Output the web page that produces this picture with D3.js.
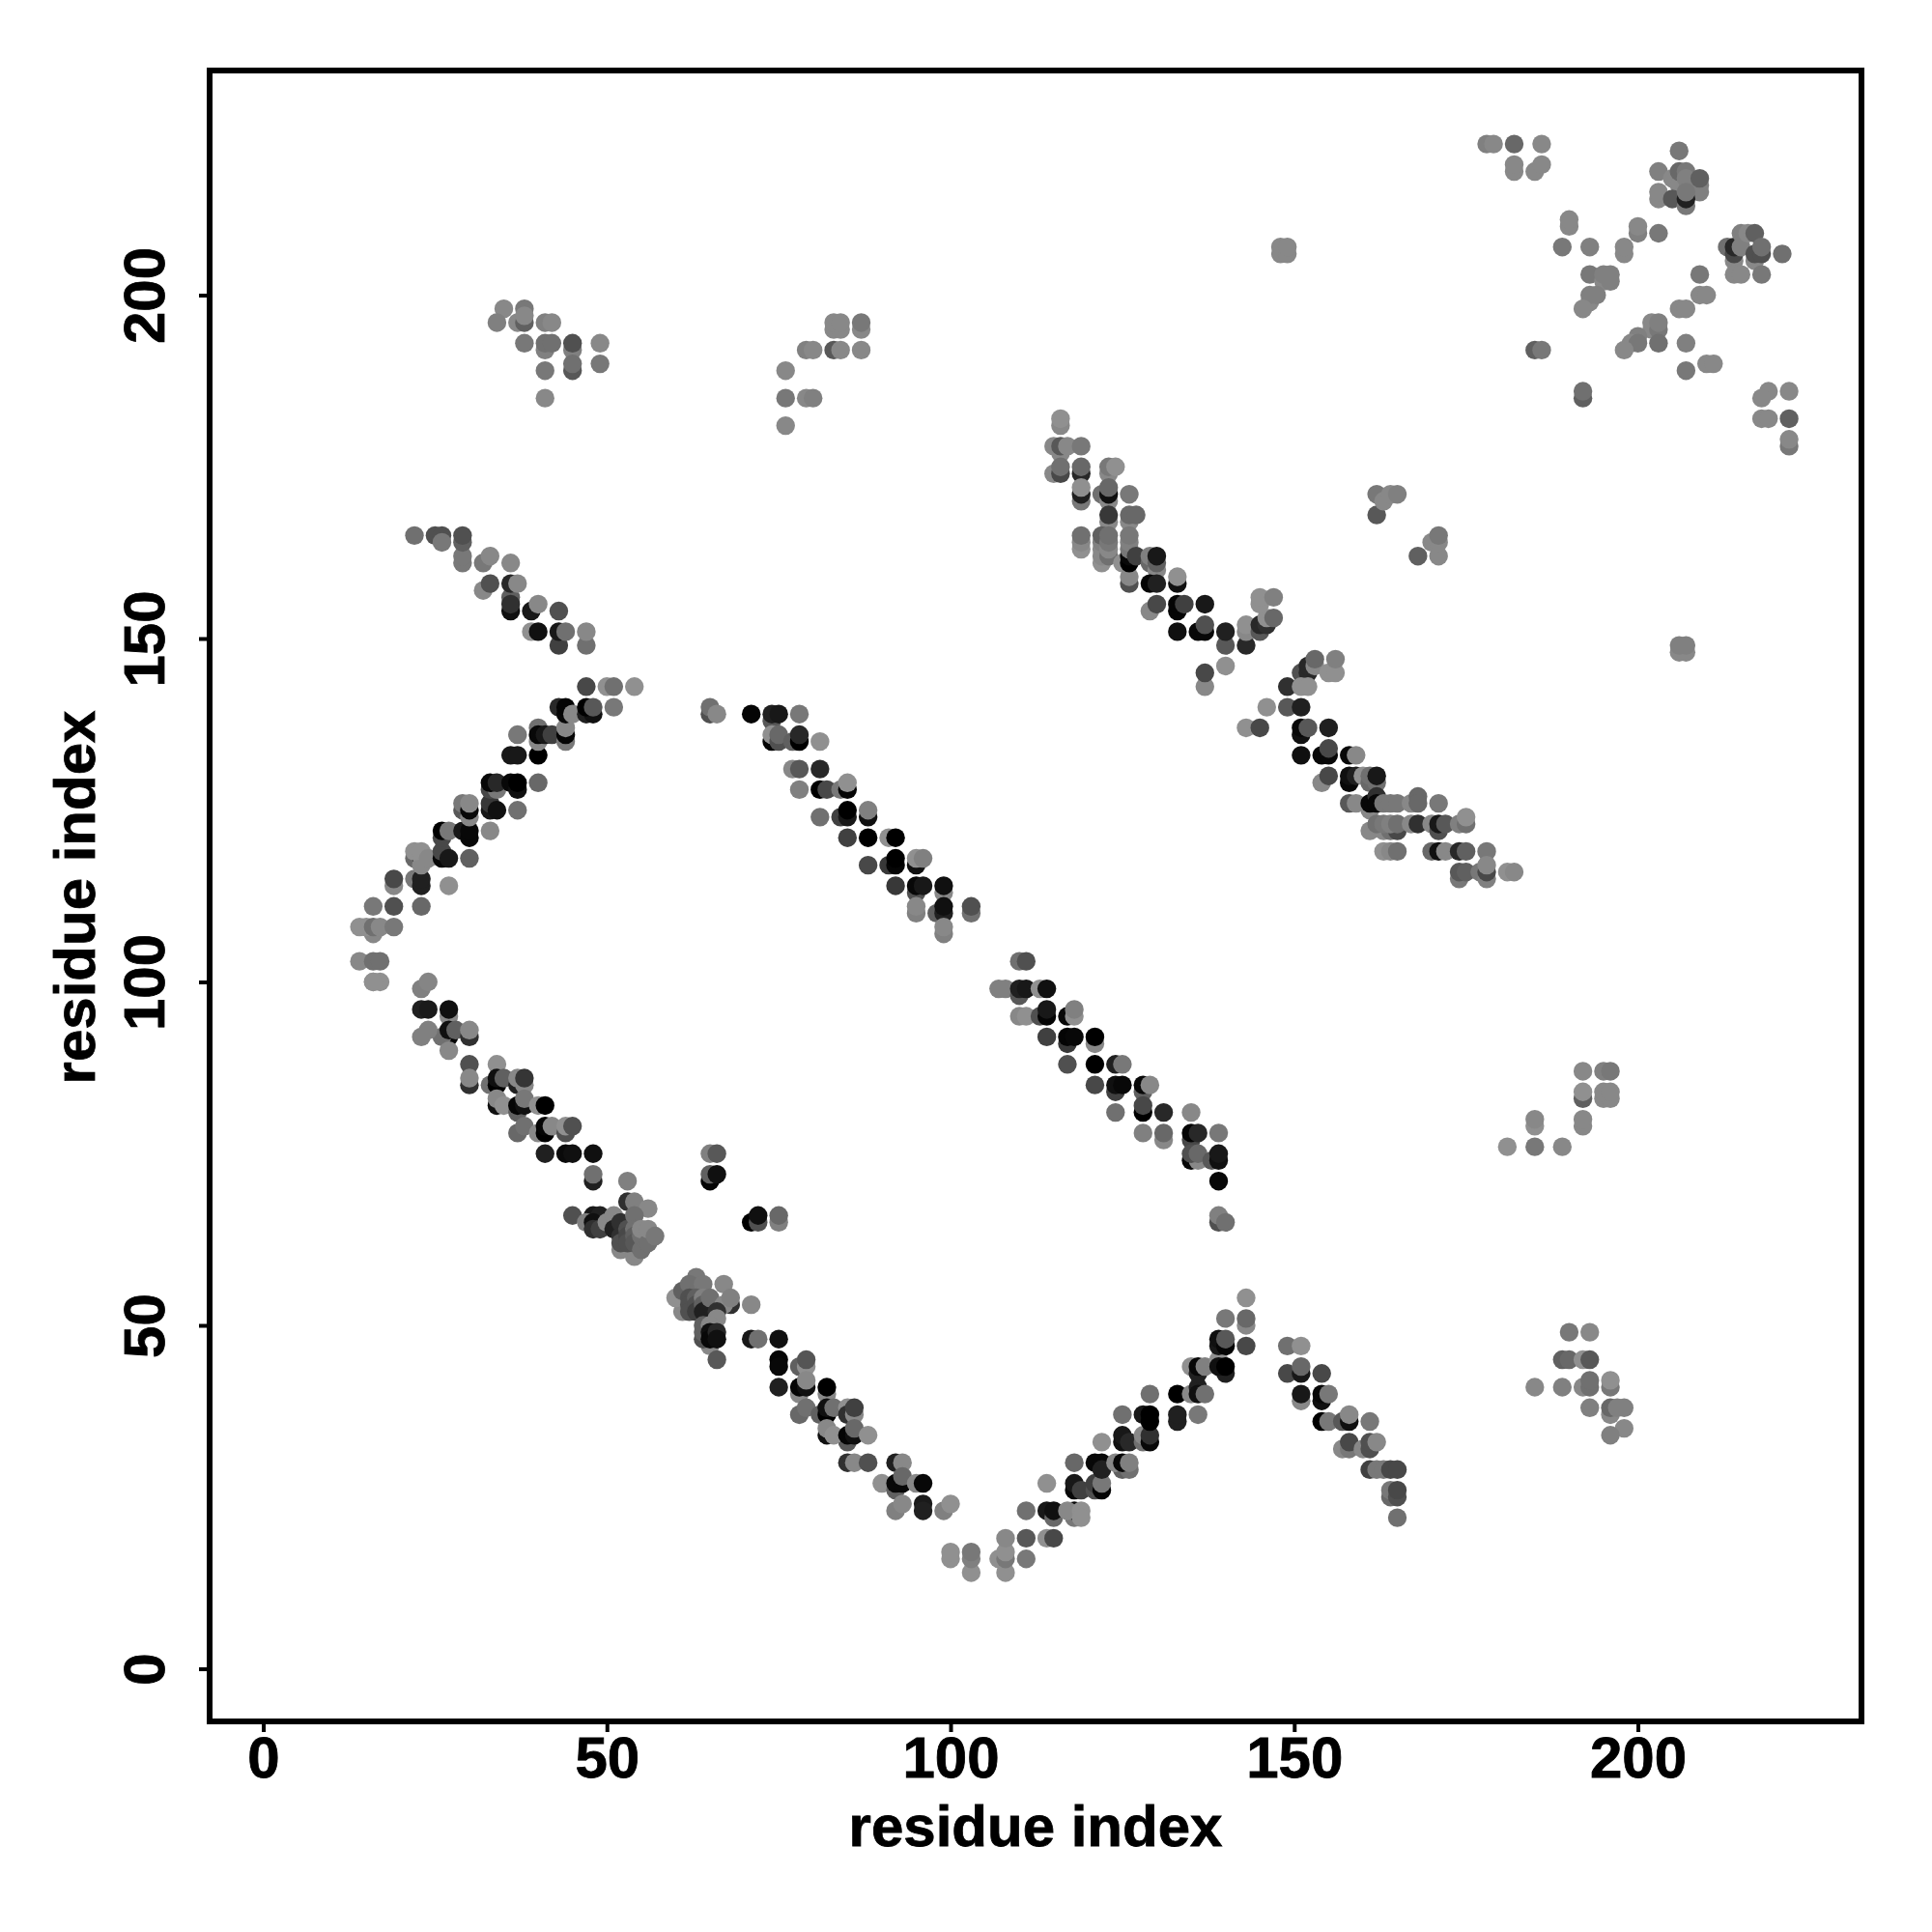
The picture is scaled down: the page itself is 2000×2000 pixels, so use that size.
<!DOCTYPE html>
<html><head><meta charset="utf-8">
<script src="https://cdn.jsdelivr.net/npm/d3@7/dist/d3.min.js"></script>
<style>html,body{margin:0;background:#fff}svg{display:block}</style></head>
<body><div id="chart"></div>
<script>
const xTicks=[0,50,100,150,200];
const yTicks=[0,50,100,150,200];
const axisTitle="residue index";
// [residue i, residue j, grey level]
const lowerBand=[[16,100,0x90],[17,100,0x90],[23,99,0x80],[24,100,0x85],[27,95,0x88],[23,96,0x20],[24,96,0x1a],[27,96,0x10],[27,92,0x05],[26,92,0x70],[23,92,0x80],[24,93,0x80],[27,93,0x10],[28,93,0x60],[30,92,0x30],[30,93,0x88],[27,90,0x88],[30,88,0x50],[30,85,0x30],[30,86,0x88],[33,85,0x70],[34,88,0x90],[34,85,0x00],[34,86,0x10],[35,86,0x60],[37,85,0x20],[38,85,0x88],[37,86,0x88],[38,86,0x35],[34,82,0x10],[34,83,0x88],[35,82,0x90],[37,81,0x60],[37,82,0x05],[38,82,0x10],[38,83,0x78],[40,82,0x90],[41,82,0x00],[37,78,0x68],[38,79,0x70],[40,78,0x88],[41,78,0x00],[41,79,0x05],[42,79,0x88],[44,78,0x50],[44,79,0x90],[45,79,0x50],[41,75,0x20],[44,75,0x0a],[45,75,0x10],[48,75,0x10],[48,71,0x20],[48,72,0x70],[53,71,0x80]];
const firstCluster=[[53,68,0x30],[54,68,0x80],[56,67,0x88],[45,66,0x50],[48,66,0x18],[49,66,0x20],[47,65,0x80],[48,65,0x10],[48,64,0x30],[49,64,0x40],[52,61,0x88],[54,60,0x88],[54,61,0x88],[50,65,0x88],[51,66,0x88],[51,64,0x20],[52,65,0x30],[52,63,0x30],[52,62,0x50],[53,64,0x50],[53,63,0x48],[53,62,0x50],[54,66,0x70],[54,64,0x70],[54,63,0x60],[54,62,0x58],[55,61,0x70],[55,63,0x70],[55,64,0x88],[56,62,0x70],[56,64,0x88],[57,63,0x78]];
const shortContacts=[[65,75,0x80],[66,75,0x58],[65,71,0x05],[65,72,0x60],[66,72,0x10],[71,65,0x00],[72,65,0x50],[72,66,0x10],[75,65,0x80],[75,66,0x68]];
const secondCluster=[[61,52,0x88],[60,54,0x90],[63,57,0x78],[67,56,0x88],[61,55,0x60],[62,56,0x70],[64,56,0x78],[62,54,0x50],[62,53,0x50],[62,52,0x50],[63,54,0x60],[63,53,0x50],[63,52,0x40],[64,54,0x80],[64,53,0x60],[64,52,0x20],[65,53,0x20],[65,54,0x70],[68,53,0x30],[67,53,0x88],[68,54,0x80],[71,53,0x88],[66,52,0x30],[66,51,0x88],[65,47,0x88],[64,48,0x50],[64,49,0x60],[64,50,0x60],[65,50,0x88],[65,49,0x10],[65,48,0x08],[66,49,0x28],[66,48,0x10],[66,45,0x58]];
const lowerFall=[[71,48,0x18],[72,48,0x70],[75,48,0x10],[75,45,0x05],[75,44,0x08],[75,41,0x20],[78,44,0x60],[79,44,0x90],[79,45,0x55],[78,40,0x88],[78,41,0x05],[79,41,0x10],[79,42,0x88],[82,40,0x88],[82,41,0x00],[78,37,0x68],[79,38,0x70],[81,37,0x60],[82,37,0x00],[82,38,0x10],[83,38,0x70],[85,38,0x90],[85,37,0x30],[86,37,0x88],[86,38,0x40],[85,33,0x58],[82,34,0x10],[82,35,0x88],[83,34,0x90],[85,34,0x05],[86,34,0x10],[86,35,0x68],[88,34,0x90],[85,30,0x30],[86,30,0x88],[88,30,0x50],[92,30,0x20],[93,30,0x88],[90,27,0x90],[92,26,0x60],[92,27,0x08],[93,27,0x08],[93,28,0x68],[95,27,0x88],[96,27,0x08],[92,23,0x80],[93,24,0x88],[96,24,0x1a],[96,23,0x20],[99,23,0x80],[100,24,0x90]];
const valley=[[100,16,0x90],[100,17,0x90],[103,14,0x90],[103,16,0x80],[103,17,0x78],[107,16,0x90],[108,14,0x90],[108,16,0x78],[108,17,0x90],[108,19,0x88],[111,16,0x78],[111,19,0x58],[114,19,0x90],[115,19,0x48]];
const lowerRise=[[111,23,0x70],[114,23,0x18],[115,22,0x68],[115,23,0x10],[114,27,0x90],[118,22,0x78],[118,23,0x08],[117,23,0x88],[119,23,0x90],[119,22,0x90],[118,30,0x68],[118,26,0x08],[118,27,0x18],[119,26,0x40],[121,26,0x50],[121,27,0x40],[122,26,0x05],[122,27,0x78],[121,30,0x08],[122,30,0x08],[122,29,0x20],[125,29,0x60],[126,29,0x70],[124,30,0x88],[125,30,0x08],[126,30,0x80],[122,33,0x90],[125,33,0x10],[125,34,0x18],[126,33,0x28],[125,37,0x70],[128,33,0x70],[128,34,0x88],[129,33,0x08],[129,34,0x30],[128,37,0x18],[129,36,0x00],[129,37,0x00],[129,40,0x70],[133,36,0x20],[133,37,0x20],[133,40,0x00],[135,40,0x88],[136,41,0x20],[136,40,0x10],[137,40,0x70],[136,37,0x78],[135,44,0x90],[136,43,0x20],[136,44,0x08],[137,44,0x80],[139,45,0x90],[140,43,0x20],[139,44,0x10],[140,44,0x00],[139,47,0x18],[139,48,0x10],[140,47,0x05],[140,48,0x58],[140,51,0x78],[143,54,0x90],[143,50,0x88],[143,51,0x68],[143,47,0x48]];
const lowerRight=[[149,47,0x70],[151,47,0x90],[149,43,0x48],[151,43,0x18],[151,44,0x68],[154,43,0x48],[151,39,0x88],[151,40,0x18],[154,39,0x10],[154,40,0x08],[155,40,0x78],[154,36,0x00],[155,36,0x78],[157,36,0x58],[158,36,0x10],[158,37,0x88],[161,36,0x78],[157,32,0x88],[158,32,0x78],[158,33,0x48],[160,32,0x88],[161,32,0x50],[161,33,0x50],[162,33,0x88],[161,29,0x40],[162,29,0x78],[163,29,0x78],[164,29,0x48],[165,29,0x48],[164,25,0x68],[164,26,0x78],[165,25,0x50],[165,26,0x48],[165,22,0x70]];
const farLower=[[192,87,0x88],[195,87,0x80],[196,87,0x78],[192,83,0x60],[192,84,0x90],[195,83,0x88],[196,83,0x88],[195,84,0x88],[196,84,0x88],[192,79,0x88],[192,80,0x88],[185,79,0x90],[185,80,0x88],[181,76,0x90],[185,76,0x78],[189,76,0x88],[190,49,0x78],[193,49,0x88],[189,45,0x60],[190,45,0x68],[192,45,0x90],[193,45,0x58],[185,41,0x88],[189,41,0x80],[192,41,0x88],[193,41,0x70],[193,42,0x70],[196,41,0x78],[196,42,0x90],[193,38,0x80],[196,37,0x88],[196,38,0x68],[197,38,0x80],[198,38,0x80],[198,35,0x88],[196,34,0x80]];
const midFall=[[110,103,0x70],[111,103,0x50],[107,99,0x80],[108,99,0x80],[110,98,0x58],[110,99,0x20],[111,99,0x18],[113,99,0x90],[114,99,0x10],[110,95,0x88],[111,95,0x90],[113,95,0x50],[114,95,0x05],[114,96,0x18],[117,95,0x08],[118,95,0x90],[118,96,0x80],[114,92,0x40],[117,91,0x38],[117,92,0x05],[118,92,0x08],[121,91,0x88],[121,92,0x00],[117,88,0x50],[121,88,0x00],[124,88,0x20],[125,88,0x78],[121,85,0x48],[124,84,0x40],[124,85,0x10],[125,85,0x08],[128,84,0x60],[128,85,0x08],[129,85,0x88],[124,81,0x70],[128,81,0x00],[128,82,0x48],[131,81,0x28],[135,81,0x88],[128,78,0x80],[131,77,0x88],[131,78,0x68],[135,77,0x48],[135,78,0x05],[136,78,0x28],[139,78,0x78],[135,74,0x08],[136,74,0x88],[135,75,0x50],[136,75,0x68],[138,74,0x58],[139,74,0x10],[139,75,0x18],[139,71,0x08],[139,65,0x50],[139,66,0x80],[140,65,0x70]];
const leftRise=[[16,100,0x90],[14,103,0x88],[16,103,0x70],[17,103,0x70],[16,107,0x88],[14,108,0x90],[15,108,0x90],[16,108,0x70],[17,108,0x88],[19,108,0x78],[16,111,0x78],[19,111,0x50],[23,111,0x68],[19,114,0x88],[19,115,0x48],[22,115,0x78],[23,114,0x20],[23,115,0x20],[27,114,0x90],[22,118,0x68],[23,118,0x00],[23,117,0x88],[22,119,0x90],[23,119,0x90],[24,118,0x88],[26,118,0x08],[26,119,0x48],[27,118,0x18],[30,118,0x60],[26,121,0x48],[26,122,0x00],[27,122,0x78],[29,122,0x18],[30,121,0x08],[30,122,0x08],[33,122,0x88],[29,125,0x58],[29,126,0x78],[30,124,0x88],[30,125,0x08],[30,126,0x88],[33,125,0x18],[33,126,0x38],[34,125,0x10],[37,125,0x70],[33,128,0x48],[34,128,0x78],[33,129,0x08],[34,129,0x28],[36,129,0x08],[37,128,0x10],[37,129,0x00],[40,129,0x68],[36,133,0x18],[37,133,0x18],[40,133,0x00],[37,136,0x78],[40,135,0x88],[40,137,0x70],[40,136,0x08],[41,136,0x18],[42,136,0x40],[44,135,0x78],[44,136,0x05],[44,137,0x88],[43,140,0x28],[44,139,0x08],[44,140,0x05],[45,139,0x88],[47,139,0x20],[48,139,0x10],[47,140,0x00],[48,140,0x58],[51,140,0x78],[47,143,0x48],[50,143,0x90],[51,143,0x70],[54,143,0x90]];
const upperLeft=[[22,165,0x70],[25,165,0x50],[26,165,0x50],[26,164,0x78],[29,161,0x78],[29,162,0x78],[29,164,0x60],[29,165,0x50],[32,161,0x78],[33,162,0x88],[32,157,0x88],[33,158,0x50],[36,161,0x88],[36,156,0x60],[36,158,0x28],[37,158,0x88],[36,154,0x10],[36,155,0x30],[39,154,0x18],[40,155,0x88],[39,151,0x90],[40,151,0x10],[43,149,0x40],[43,151,0x18],[44,151,0x70],[43,154,0x50],[47,149,0x70],[47,151,0x88]];
const midRise=[[65,139,0x50],[65,140,0x70],[66,139,0x88],[71,139,0x05],[74,138,0x58],[74,139,0x20],[75,139,0x18],[78,139,0x78],[74,135,0x05],[74,136,0x90],[75,135,0x50],[75,136,0x68],[77,135,0x60],[78,135,0x00],[78,136,0x28],[81,135,0x90],[77,131,0x88],[78,131,0x58],[81,131,0x28],[78,128,0x80],[81,128,0x00],[82,128,0x48],[84,128,0x78],[85,128,0x05],[85,129,0x90],[81,124,0x70],[84,124,0x40],[85,124,0x18],[85,125,0x00],[88,124,0x10],[88,125,0x80],[85,121,0x40],[88,121,0x00],[91,121,0x90],[92,121,0x00],[88,117,0x48],[91,117,0x38],[92,117,0x05],[92,118,0x00],[95,117,0x10],[95,118,0x90],[96,118,0x80],[92,114,0x38],[95,113,0x50],[95,114,0x08],[96,114,0x18],[99,113,0x88],[99,114,0x10],[95,110,0x80],[95,111,0x88],[98,110,0x60],[99,110,0x20],[99,111,0x10],[103,110,0x70],[103,111,0x50],[99,107,0x80],[99,108,0x88]];
const upperFall=[[116,181,0x88],[116,182,0x90],[115,178,0x88],[116,177,0x88],[116,178,0x58],[117,178,0x88],[119,178,0x78],[115,174,0x88],[116,174,0x48],[116,175,0x70],[119,174,0x28],[119,175,0x68],[123,174,0x88],[123,175,0x78],[124,175,0x90],[119,170,0x78],[119,171,0x20],[119,172,0x90],[122,171,0x70],[123,170,0x88],[123,171,0x10],[123,172,0x68],[126,171,0x78],[123,167,0x88],[123,168,0x38],[126,167,0x88],[126,168,0x68],[127,168,0x68],[119,163,0x90],[119,164,0x88],[119,165,0x70],[122,161,0x90],[122,162,0x88],[122,163,0x88],[122,164,0x80],[122,165,0x60],[123,162,0x70],[123,163,0x88],[123,164,0x78],[123,165,0x70],[125,161,0x90],[126,158,0x50],[126,159,0x88],[126,161,0x00],[126,162,0x08],[126,163,0x78],[126,164,0x80],[126,165,0x78],[127,162,0x40],[129,161,0x68],[129,162,0x80],[130,160,0x88],[130,161,0x60],[130,162,0x18],[129,158,0x05],[130,158,0x20],[133,158,0x10],[133,159,0x90],[129,154,0x88],[130,155,0x48],[133,154,0x05],[133,155,0x05],[134,155,0x40],[137,155,0x18],[133,151,0x10],[136,151,0x08],[137,151,0x08],[137,152,0x50],[140,149,0x58],[140,151,0x20],[143,149,0x28],[143,151,0x88],[143,152,0x90],[145,151,0x58],[145,152,0x28],[146,152,0x30],[146,153,0x90],[147,153,0x68],[145,155,0x90],[145,156,0x90],[147,156,0x80],[140,146,0x90],[137,143,0x88],[137,145,0x48]];
const upperRightBand=[[151,145,0x50],[152,145,0x28],[152,146,0x28],[153,146,0x88],[153,147,0x68],[155,145,0x90],[156,145,0x90],[156,147,0x80],[149,143,0x30],[151,143,0x90],[152,143,0x90],[146,140,0x90],[149,140,0x58],[151,140,0x20],[143,137,0x90],[145,137,0x48],[151,136,0x10],[151,137,0x08],[152,137,0x58],[155,137,0x20],[151,133,0x10],[154,133,0x08],[155,133,0x08],[155,134,0x48],[158,133,0x08],[159,133,0x88],[154,129,0x88],[155,130,0x48],[158,129,0x08],[158,130,0x10],[159,130,0x20],[160,130,0x90],[161,129,0x68],[161,130,0x70],[162,129,0x70],[162,130,0x18],[158,126,0x58],[159,126,0x88],[161,125,0x88],[161,126,0x08],[162,127,0x30],[162,126,0x08],[163,126,0x78],[164,126,0x78],[165,126,0x78],[167,126,0x88],[168,127,0x68],[168,126,0x68],[171,126,0x78],[161,122,0x88],[163,122,0x88],[164,122,0x70],[165,122,0x48],[162,123,0x70],[163,123,0x78],[164,123,0x80],[165,123,0x70],[167,123,0x88],[168,123,0x30],[170,123,0x88],[171,122,0x50],[171,123,0x18],[172,123,0x58],[174,123,0x80],[175,123,0x70],[175,124,0x90],[163,119,0x90],[164,119,0x88],[165,119,0x70],[170,119,0x68],[171,119,0x10],[172,119,0x88],[174,119,0x28],[175,119,0x60],[178,119,0x78],[174,115,0x78],[174,116,0x58],[175,116,0x60],[177,116,0x78],[178,115,0x80],[178,116,0x48],[178,117,0x88],[181,116,0x90],[182,116,0x88]];
const farUpperLeft=[[35,198,0x88],[34,196,0x80],[37,196,0x88],[38,196,0x60],[38,198,0x78],[38,197,0x88],[41,196,0x80],[42,196,0x88],[38,193,0x78],[41,192,0x80],[41,193,0x70],[42,193,0x70],[45,192,0x80],[45,193,0x50],[49,193,0x88],[41,189,0x78],[45,189,0x58],[45,190,0x70],[49,190,0x78],[41,185,0x88],[83,195,0x88],[84,195,0x88],[83,196,0x88],[84,196,0x88],[87,195,0x88],[87,196,0x78],[79,192,0x80],[80,192,0x88],[83,192,0x58],[84,192,0x88],[87,192,0x88],[76,189,0x88],[76,185,0x78],[79,185,0x88],[80,185,0x80],[76,181,0x88]];
const isolated=[[148,206,0x88],[148,207,0x88],[149,206,0x88],[149,207,0x88],[206,148,0x88],[207,148,0x88],[206,149,0x80],[207,149,0x80],[162,168,0x58],[162,171,0x78],[163,170,0x88],[164,171,0x88],[165,171,0x80],[168,162,0x60],[171,162,0x88],[170,164,0x88],[171,164,0x88],[171,165,0x78]];
const farUpperRight=[[178,222,0x80],[179,222,0x88],[182,222,0x68],[186,222,0x88],[182,218,0x88],[182,219,0x88],[185,218,0x88],[186,219,0x88],[206,221,0x78],[203,218,0x80],[205,217,0x88],[206,216,0x88],[206,218,0x68],[207,218,0x78],[207,217,0x80],[209,215,0x80],[209,216,0x80],[209,217,0x60],[203,214,0x88],[203,215,0x88],[205,214,0x58],[207,213,0x78],[207,214,0x20],[207,215,0x78],[190,210,0x88],[190,211,0x88],[189,207,0x78],[193,207,0x80],[200,209,0x80],[200,210,0x88],[203,209,0x78],[198,206,0x88],[198,207,0x88],[193,203,0x78],[195,202,0x88],[195,203,0x80],[196,202,0x80],[196,203,0x80],[193,199,0x88],[193,200,0x80],[194,200,0x80],[192,198,0x88],[214,205,0x88],[213,207,0x70],[214,206,0x48],[214,207,0x28],[215,207,0x80],[215,209,0x80],[216,209,0x88],[217,209,0x60],[217,205,0x88],[217,206,0x50],[218,206,0x50],[218,207,0x70],[214,203,0x88],[215,203,0x88],[218,203,0x78],[221,206,0x70],[209,203,0x78],[209,200,0x88],[210,200,0x88],[206,198,0x88],[207,198,0x88],[202,195,0x88],[202,196,0x88],[203,195,0x78],[203,196,0x80],[200,194,0x80],[199,193,0x88],[200,193,0x78],[198,192,0x88],[203,193,0x70],[207,193,0x80],[185,192,0x60],[186,192,0x78],[210,190,0x88],[211,190,0x88],[207,189,0x78],[192,185,0x60],[192,186,0x70],[219,186,0x88],[218,185,0x88],[222,186,0x88],[218,182,0x88],[219,182,0x88],[222,182,0x60],[222,178,0x78],[222,179,0x88]];
const contacts=[].concat(lowerBand,firstCluster,shortContacts,secondCluster,lowerFall,valley,lowerRise,lowerRight,farLower,midFall,leftRise,upperLeft,midRise,upperFall,upperRightBand,farUpperLeft,isolated,farUpperRight);

const left=217,right=1927,top_=73,bottom=1782;
const svg=d3.select("#chart").append("svg").attr("width",2000).attr("height",2000);
svg.append("rect").attr("width",2000).attr("height",2000).attr("fill","#fff");
const x=d3.scaleLinear().domain([-7.8,232.53]).range([left,right]);
const y=d3.scaleLinear().domain([-7.665,232.7]).range([bottom,top_]);
const grey=d3.scaleLinear().domain([0,255]).range(["#000","#fff"]);
const font="'Liberation Sans',Arial,sans-serif";

svg.append("g").selectAll("circle").data(contacts).join("circle")
  .attr("cx",d=>x(d[0])).attr("cy",d=>y(d[1])).attr("r",9.7)
  .attr("fill",d=>grey(d[2]));

svg.append("rect").attr("x",left).attr("y",top_).attr("width",right-left).attr("height",bottom-top_)
  .attr("fill","none").attr("stroke","#000").attr("stroke-width",6);

const gx=svg.append("g").attr("transform",`translate(0,${bottom})`)
  .call(d3.axisBottom(x).tickValues(xTicks).tickSize(11).tickPadding(10));
const gy=svg.append("g").attr("transform",`translate(${left},0)`)
  .call(d3.axisLeft(y).tickValues(yTicks).tickSize(11).tickPadding(0));
[gx,gy].forEach(g=>{
  g.select(".domain").remove();
  g.selectAll("line").attr("stroke","#000").attr("stroke-width",4);
  g.selectAll("text").attr("font-family",font).attr("font-weight","bold").attr("font-size",60).attr("fill","#000")
    .attr("stroke","#000").attr("stroke-width",0.8);
});
gx.selectAll("text").attr("dy",null).attr("y",null).attr("transform",null)
  .attr("y",58).attr("text-anchor","middle");
gy.selectAll("text").attr("x",null).attr("dy",null)
  .attr("transform","translate(-47,0) rotate(-90)").attr("text-anchor","middle").attr("x",0).attr("y",0);

svg.append("text").attr("x",1072).attr("y",1911).attr("text-anchor","middle")
  .attr("font-family",font).attr("font-weight","bold").attr("font-size",60)
  .attr("stroke","#000").attr("stroke-width",0.8).text(axisTitle);
svg.append("text").attr("transform","translate(98,929) rotate(-90)").attr("text-anchor","middle")
  .attr("font-family",font).attr("font-weight","bold").attr("font-size",60)
  .attr("stroke","#000").attr("stroke-width",0.8).text(axisTitle);
</script></body></html>
